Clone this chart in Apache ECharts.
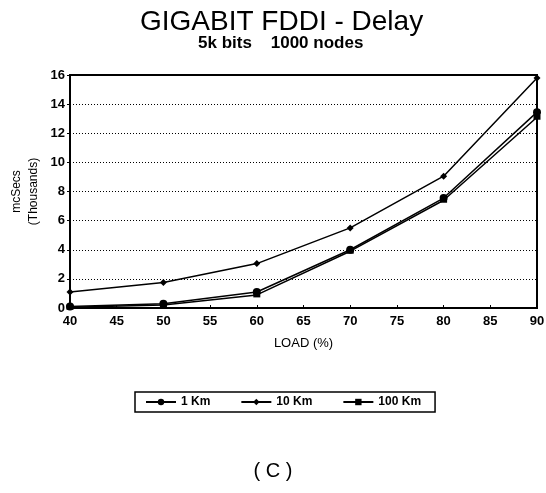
<!DOCTYPE html>
<html><head><meta charset="utf-8">
<script src="https://cdn.jsdelivr.net/npm/echarts@6/dist/echarts.min.js"></script>
<style>html,body{margin:0;padding:0;background:#fff}#c{width:546px;height:493px}</style>
</head><body><div id="c"></div>
<script>
var loads = [40, 50, 60, 70, 80, 90];
var km1 = [0.1, 0.3, 1.1, 4.0, 7.55, 13.45];
var km10 = [1.1, 1.75, 3.05, 5.5, 9.05, 15.8];
var km100 = [0.05, 0.2, 0.9, 3.9, 7.4, 13.1];
var seriesNames = ['1 Km', '10 Km', '100 Km'];
var yTicks = [0, 2, 4, 6, 8, 10, 12, 14, 16];

function pairs(v){ return loads.map(function(x,i){ return [x, v[i]]; }); }
var chart = echarts.init(document.getElementById('c'));
var F = 'Liberation Sans, Arial, sans-serif';
chart.setOption({
  animation: false,
  backgroundColor: '#fff',
  title: [
    {text: 'GIGABIT FDDI - Delay', left: 135, top: 3, textStyle: {fontFamily: F, fontSize: 28, fontWeight: 'normal', color: '#000'}},
    {text: '5k bits    1000 nodes', left: 193, top: 30, textStyle: {fontFamily: F, fontSize: 17, fontWeight: 'bold', color: '#000'}},
    {text: '( C )', left: 'center', top: 456, textStyle: {fontFamily: F, fontSize: 20, fontWeight: 'normal', color: '#000'}}
  ],
  grid: {left: 70, right: 9, top: 75, bottom: 185, show: true, borderColor: '#000', borderWidth: 2, outerBoundsMode: 'none', containLabel: false},
  legend: {
    data: seriesNames, left: 135, top: 392, itemGap: 30, itemWidth: 30, itemHeight: 8,
    borderColor: '#000', borderWidth: 1.5, padding: [4, 14, 4, 10],
    textStyle: {fontFamily: F, fontSize: 12, fontWeight: 'bold', color: '#000'}
  },
  xAxis: {
    type: 'value', min: 40, max: 90, interval: 5,
    name: 'LOAD (%)', nameLocation: 'middle', nameGap: 29,
    nameTextStyle: {fontFamily: F, fontSize: 13, color: '#000'},
    axisLine: {lineStyle: {color: '#000', width: 2}},
    axisTick: {show: true, inside: true, length: 3, lineStyle: {color: '#000'}},
    axisLabel: {fontFamily: F, fontSize: 13, fontWeight: 'bold', color: '#000', margin: 7},
    splitLine: {show: false}
  },
  yAxis: {
    type: 'value', min: 0, max: 16, interval: 2,
    name: 'mcSecs\n(Thousands)', nameLocation: 'middle', nameGap: 28, nameRotate: 90, nameMoveOverlap: false,
    nameTextStyle: {fontFamily: F, fontSize: 12, color: '#000', lineHeight: 17},
    axisLine: {lineStyle: {color: '#000', width: 2}},
    axisTick: {show: true, length: 3, lineStyle: {color: '#000'}},
    axisLabel: {fontFamily: F, fontSize: 13, fontWeight: 'bold', color: '#000', margin: 5,
      formatter: function(v){ return yTicks.indexOf(v) >= 0 ? String(v) : ''; }},
    splitLine: {show: true, lineStyle: {color: '#000', type: [1, 2], width: 1}}
  },
  series: [
    {name: seriesNames[0], type: 'line', data: pairs(km1), symbol: 'circle', symbolSize: 8,
      lineStyle: {color: '#000', width: 1.5}, itemStyle: {color: '#000'}},
    {name: seriesNames[1], type: 'line', data: pairs(km10), symbol: 'diamond', symbolSize: 7,
      lineStyle: {color: '#000', width: 1.5}, itemStyle: {color: '#000'}},
    {name: seriesNames[2], type: 'line', data: pairs(km100), symbol: 'rect', symbolSize: [7, 5],
      lineStyle: {color: '#000', width: 1.5}, itemStyle: {color: '#000'}}
  ]
});
</script></body></html>
